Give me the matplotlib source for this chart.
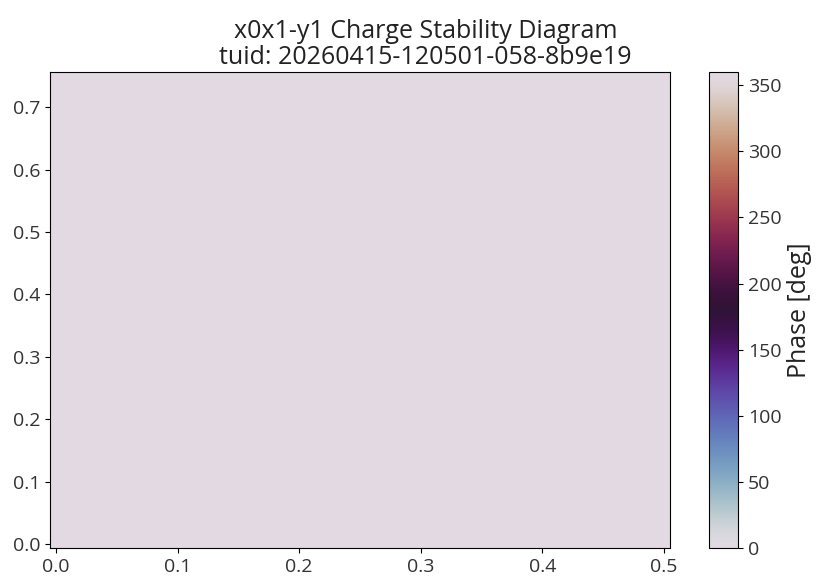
import matplotlib
matplotlib.use("Agg")
import matplotlib.pyplot as plt
import numpy as np

plt.rcParams['font.family'] = ['Open Sans', 'DejaVu Sans']

# sweep axes (setpoints) and measured phase
x0 = np.linspace(0.0, 0.5, 51)
x1 = np.linspace(0.0, 0.75, 61)
phase = np.zeros((len(x1), len(x0)))  # flat at 0 deg everywhere

title = "x0x1-y1 Charge Stability Diagram\ntuid: 20260415-120501-058-8b9e19"
cbar_label = "Phase [deg]"
cbar_ticks = [0, 50, 100, 150, 200, 250, 300, 350]

fig = plt.figure(figsize=(8.21, 5.88), dpi=100)
ax = fig.add_axes([50/821, 40/588, 620/821, 476/588])
cax = fig.add_axes([709/821, 40/588, 29/821, 476/588])

mesh = ax.pcolormesh(x0, x1, phase, cmap="twilight", vmin=0, vmax=360, shading="nearest")
ax.set_title(title, fontsize=18, color="#222222", x=0.606, pad=6, linespacing=1.05)
ax.tick_params(labelsize=14, labelcolor="#333333")

cb = fig.colorbar(mesh, cax=cax)
cb.set_ticks(cbar_ticks)
cb.ax.tick_params(labelsize=14, labelcolor="#333333")
cb.set_label(cbar_label, fontsize=18, color="#222222")

fig.savefig("out.png", dpi=100)
